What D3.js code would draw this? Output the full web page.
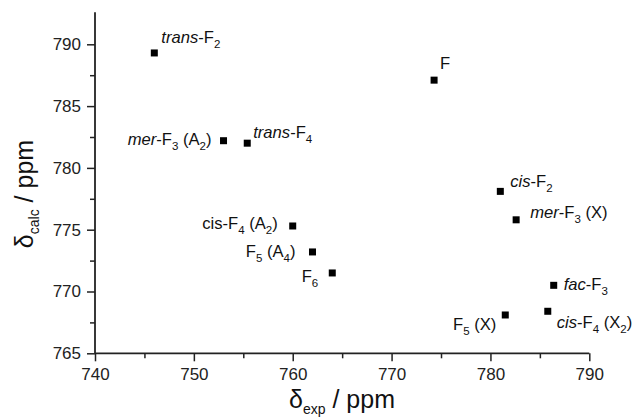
<!DOCTYPE html>
<html><head><meta charset="utf-8">
<script src="https://cdn.jsdelivr.net/npm/d3@7"></script>
<style>body{margin:0;background:#fff;} text{font-family:"Liberation Sans",Arial,sans-serif;}</style>
</head><body><svg id="c" width="632" height="418"></svg>
<script>
// data
const labels = ["*trans*-F_2","*mer*-F_3 (A_2)","*trans*-F_4","F","*cis*-F_2","cis-F_4 (A_2)","F_5 (A_4)","F_6","*mer*-F_3 (X)","*fac*-F_3","F_5 (X)","*cis*-F_4 (X_2)"];
const dExp  = [746.0, 753.0, 755.4, 774.3, 781.0, 760.0, 762.0, 764.0, 782.6, 786.4, 781.5, 785.8];
const dCalc = [789.3, 782.2, 782.0, 787.1, 778.1, 775.3, 773.2, 771.5, 775.8, 770.5, 768.1, 768.4];
const xTicks = [740, 750, 760, 770, 780, 790];
const yTicks = [765, 770, 775, 780, 785, 790];
// label layout (offset from point, anchor)
const labelDx = [7, -12, 6, 6, 10, -15, -17, -14, 14, 10, -9, 9];
const labelDy = [-10, 4, -5, -11, -4, 3, 5, 9, -2, 5, 15, 17];
const labelAnchor = ["start","end","start","start","start","end","end","end","start","start","end","start"];

const svg = d3.select("#c");
const x = d3.scaleLinear().domain([740, 790]).range([95, 589.3]);
const y = d3.scaleLinear().domain([765, 790]).range([353.3, 44.3]);
const yTop = y(792.6);
const axisColor = "#222";

const g = svg.append("g");
// x axis
const xa = g.append("g").attr("transform", `translate(0,${y(765)})`)
  .call(d3.axisBottom(x).tickValues(xTicks).tickSize(8).tickPadding(7).tickFormat(d3.format("d")));
g.append("g").attr("transform", `translate(0,${y(765)})`)
  .call(d3.axisBottom(x).tickValues([745,755,765,775,785]).tickSize(5).tickFormat(""))
  .call(s => s.select(".domain").remove());
// y axis
const ya = g.append("g").attr("transform", `translate(${x(740)},0)`)
  .call(d3.axisLeft(y).tickValues(yTicks).tickSize(8).tickPadding(6).tickFormat(d3.format("d")));
g.append("g").attr("transform", `translate(${x(740)},0)`)
  .call(d3.axisLeft(y).tickValues([767.5,772.5,777.5,782.5,787.5]).tickSize(5).tickFormat(""))
  .call(s => s.select(".domain").remove());
ya.select(".domain").attr("d", `M0,${y(765)}V${yTop}`);
xa.select(".domain").attr("d", `M${x(740)},0H${x(790)}`);
g.selectAll(".domain").attr("stroke", axisColor).attr("stroke-width", 1.8);
g.selectAll(".tick line").attr("stroke", axisColor).attr("stroke-width", 1.5);
g.selectAll(".tick text").attr("fill", "#222").attr("font-size", 17).attr("font-family", "Liberation Sans, Arial, sans-serif");

// points
const data = labels.map((l, i) => ({l, x: dExp[i], y: dCalc[i], dx: labelDx[i], dy: labelDy[i], a: labelAnchor[i]}));
svg.append("g").selectAll("rect").data(data).join("rect")
  .attr("x", d => x(d.x) - 3.5).attr("y", d => y(d.y) - 3.5)
  .attr("width", 7).attr("height", 7).attr("fill", "#000");

function addRich(textSel, str, subSize, subShift) {
  let italic = false, i = 0, shifted = false;
  let buf = "";
  const flush = () => {
    if (!buf) return;
    const t = textSel.append("tspan").text(buf).attr("font-style", italic ? "italic" : "normal");
    if (shifted) { t.attr("dy", -subShift); shifted = false; }
    buf = "";
  };
  while (i < str.length) {
    const c = str[i];
    if (c === "*") { flush(); italic = !italic; i++; continue; }
    if (c === "_") {
      flush();
      const t = textSel.append("tspan").text(str[i+1]).attr("font-size", subSize).attr("font-style", "normal");
      if (shifted) t.attr("dy", 0); else t.attr("dy", subShift);
      shifted = true;
      i += 2; continue;
    }
    buf += c; i++;
  }
  flush();
}

const lg = svg.append("g");
data.forEach(d => {
  const t = lg.append("text").attr("x", x(d.x) + d.dx).attr("y", y(d.y) + d.dy)
    .attr("text-anchor", d.a).attr("font-size", 16.6).attr("fill", "#111");
  addRich(t, d.l, 11.5, 5);
});

// axis titles
const xt = svg.append("text").attr("x", 342).attr("y", 408).attr("text-anchor", "middle")
  .attr("font-size", 25).attr("fill", "#111");
xt.append("tspan").text("δ");
xt.append("tspan").text("exp").attr("font-size", 14).attr("dy", 6);
xt.append("tspan").text(" / ppm").attr("dy", -6);

const yt = svg.append("text").attr("transform", "translate(33,194) rotate(-90)").attr("text-anchor", "middle")
  .attr("font-size", 25).attr("fill", "#111");
yt.append("tspan").text("δ");
yt.append("tspan").text("calc").attr("font-size", 14).attr("dy", 6);
yt.append("tspan").text(" / ppm").attr("dy", -6);
</script></body></html>
